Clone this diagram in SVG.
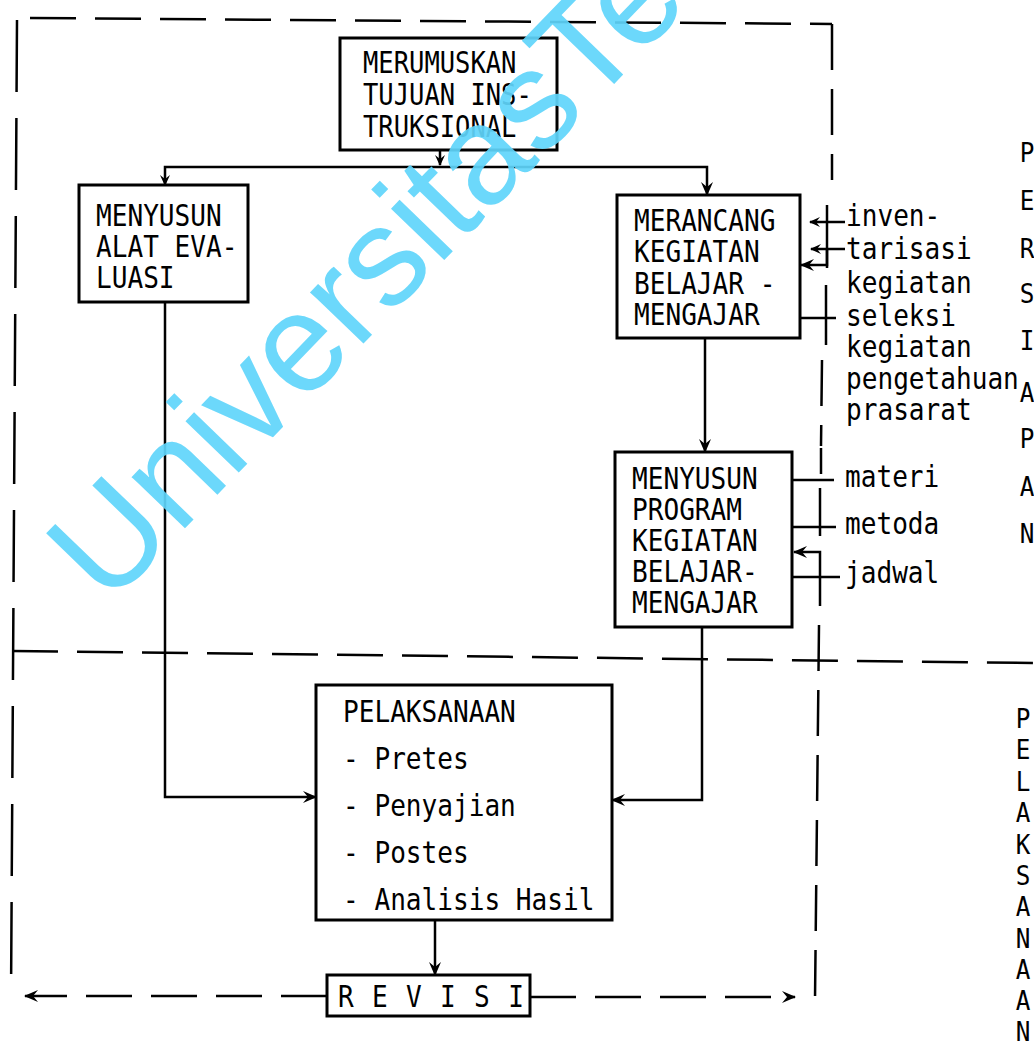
<svg xmlns="http://www.w3.org/2000/svg" width="1034" height="1044" viewBox="0 0 1034 1044">
<style>
.box{fill:#fff;stroke:#000;stroke-width:3}
.t{font-family:"DejaVu Sans Mono","Liberation Mono",monospace;font-size:30px;fill:#000}
.v{font-size:27px}
.ln{fill:none;stroke:#000;stroke-width:2.5}
.ds{fill:none;stroke:#000;stroke-width:2.5;stroke-dasharray:46 19}
.dsv{fill:none;stroke:#000;stroke-width:2.5;stroke-dasharray:72 26}
.wm{font-family:"Liberation Sans",Arial,sans-serif;font-size:140px;fill:#5fd5fb;fill-opacity:.92}
</style>
<defs>
<marker id="ah" markerWidth="16" markerHeight="14" refX="13" refY="7" orient="auto" markerUnits="userSpaceOnUse">
<path d="M0,1 L14,7 L0,13 L5,7 z" fill="#000"/>
</marker>
<marker id="ahs" markerWidth="12" markerHeight="10" refX="10" refY="5" orient="auto" markerUnits="userSpaceOnUse">
<path d="M0,0 L11,5 L0,10 L4,5 z" fill="#000"/>
</marker>
</defs>
<rect width="1034" height="1044" fill="#fff"/>

<g id="boundaries">
<path class="ds" d="M30,18 L832,24"/>
<path class="dsv" d="M17,20 L11,1000"/>
<path class="ds" d="M832,24 L832,180"/>
<path class="ds" d="M12,651 L1034,663"/>
<path class="ds" d="M822,360 L821,446"/>
<path class="ds" d="M819,625 L815,1000"/>
</g>

<g id="connectors">
<path class="ln" d="M440,150 V165" marker-end="url(#ahs)"/>
<path class="ln" d="M440,167 H165 V185" marker-end="url(#ahs)"/>
<path class="ln" d="M440,167 H707 V195" marker-end="url(#ah)"/>
<path class="ln" d="M165,302 V797 H316" marker-end="url(#ah)"/>
<path class="ln" d="M705,338 V452" marker-end="url(#ah)"/>
<path class="ln" d="M702,627 V800 H612" marker-end="url(#ah)"/>
<path class="ln" d="M435,920 V975" marker-end="url(#ah)"/>
<path class="ds" d="M327,996 H25" marker-end="url(#ah)"/>
<path class="ds" d="M530,997 H795" marker-end="url(#ah)"/>
<path class="ln" d="M827,205 V268"/>
<path class="ln" d="M826,285 V345"/>
<path class="ln" d="M845,222 H810" marker-end="url(#ahs)"/>
<path class="ln" d="M845,249 H811" marker-end="url(#ahs)"/>
<path class="ln" d="M827,249 V265 H801" marker-end="url(#ah)"/>
<path class="ln" d="M800,318 H836"/>
<path class="ln" d="M821,448 V474"/>
<path class="ln" d="M820,488 V536"/>
<path class="ln" d="M793,480 H834"/>
<path class="ln" d="M793,527 H836"/>
<path class="ln" d="M820,606 V552 H794" marker-end="url(#ah)"/>
<path class="ln" d="M793,577 H840"/>
</g>

<g id="n-merumuskan">
<rect class="box" x="340" y="38" width="217" height="112"/>
<text class="t" transform="translate(363,73) scale(.85 1)"><tspan x="0">MERUMUSKAN</tspan><tspan x="0" dy="32">TUJUAN INS-</tspan><tspan x="0" dy="32">TRUKSIONAL</tspan></text>
</g>
<g id="n-alat-evaluasi">
<rect class="box" x="79" y="185" width="169" height="117"/>
<text class="t" transform="translate(96,226) scale(.87 1)"><tspan x="0">MENYUSUN</tspan><tspan x="0" dy="31">ALAT EVA-</tspan><tspan x="0" dy="31">LUASI</tspan></text>
</g>
<g id="n-merancang">
<rect class="box" x="617" y="195" width="183" height="143"/>
<text class="t" transform="translate(634,231) scale(.87 1)"><tspan x="0">MERANCANG</tspan><tspan x="0" dy="31.5">KEGIATAN</tspan><tspan x="0" dy="31.5">BELAJAR -</tspan><tspan x="0" dy="31.5">MENGAJAR</tspan></text>
</g>
<g id="n-program">
<rect class="box" x="615" y="452" width="177" height="175"/>
<text class="t" transform="translate(632,489) scale(.87 1)"><tspan x="0">MENYUSUN</tspan><tspan x="0" dy="31">PROGRAM</tspan><tspan x="0" dy="31">KEGIATAN</tspan><tspan x="0" dy="31">BELAJAR-</tspan><tspan x="0" dy="31">MENGAJAR</tspan></text>
</g>
<g id="n-pelaksanaan">
<rect class="box" x="316" y="685" width="296" height="235"/>
<text class="t" transform="translate(343,722) scale(.87 1)"><tspan x="0">PELAKSANAAN</tspan><tspan x="0" dy="47">- Pretes</tspan><tspan x="0" dy="47">- Penyajian</tspan><tspan x="0" dy="47">- Postes</tspan><tspan x="0" dy="47">- Analisis Hasil</tspan></text>
</g>
<g id="n-revisi">
<rect class="box" x="327" y="975" width="203" height="41"/>
<text class="t" transform="translate(338,1007) scale(.87 1)" letter-spacing="1.5">R E V I S I</text>
</g>

<g id="labels">
<text class="t" transform="translate(846,226) scale(.87 1)">inven-</text>
<text class="t" transform="translate(846,259) scale(.87 1)">tarisasi</text>
<text class="t" transform="translate(846,293) scale(.87 1)">kegiatan</text>
<text class="t" transform="translate(846,326) scale(.87 1)">seleksi</text>
<text class="t" transform="translate(846,357) scale(.87 1)">kegiatan</text>
<text class="t" transform="translate(846,389) scale(.87 1)">pengetahuan</text>
<text class="t" transform="translate(846,420) scale(.87 1)">prasarat</text>
<text class="t" transform="translate(845,487) scale(.87 1)">materi</text>
<text class="t" transform="translate(845,534) scale(.87 1)">metoda</text>
<text class="t" transform="translate(845,583) scale(.87 1)">jadwal</text>
</g>

<g id="side-persiapan">
<text class="t v" text-anchor="middle" transform="translate(1027,0) scale(.9 1)"><tspan x="0" y="162">P</tspan><tspan x="0" y="210">E</tspan><tspan x="0" y="258">R</tspan><tspan x="0" y="303">S</tspan><tspan x="0" y="350">I</tspan><tspan x="0" y="402">A</tspan><tspan x="0" y="448">P</tspan><tspan x="0" y="496">A</tspan><tspan x="0" y="543">N</tspan></text>
</g>
<g id="side-pelaksanaan">
<text class="t v" text-anchor="middle" transform="translate(1023,0) scale(.9 1)"><tspan x="0" y="728">P</tspan><tspan x="0" y="759">E</tspan><tspan x="0" y="791">L</tspan><tspan x="0" y="822">A</tspan><tspan x="0" y="854">K</tspan><tspan x="0" y="885">S</tspan><tspan x="0" y="916">A</tspan><tspan x="0" y="948">N</tspan><tspan x="0" y="979">A</tspan><tspan x="0" y="1010">A</tspan><tspan x="0" y="1041">N</tspan></text>
</g>

<text class="wm" transform="translate(108,608) rotate(-46)">UniversitasTe</text>
</svg>
